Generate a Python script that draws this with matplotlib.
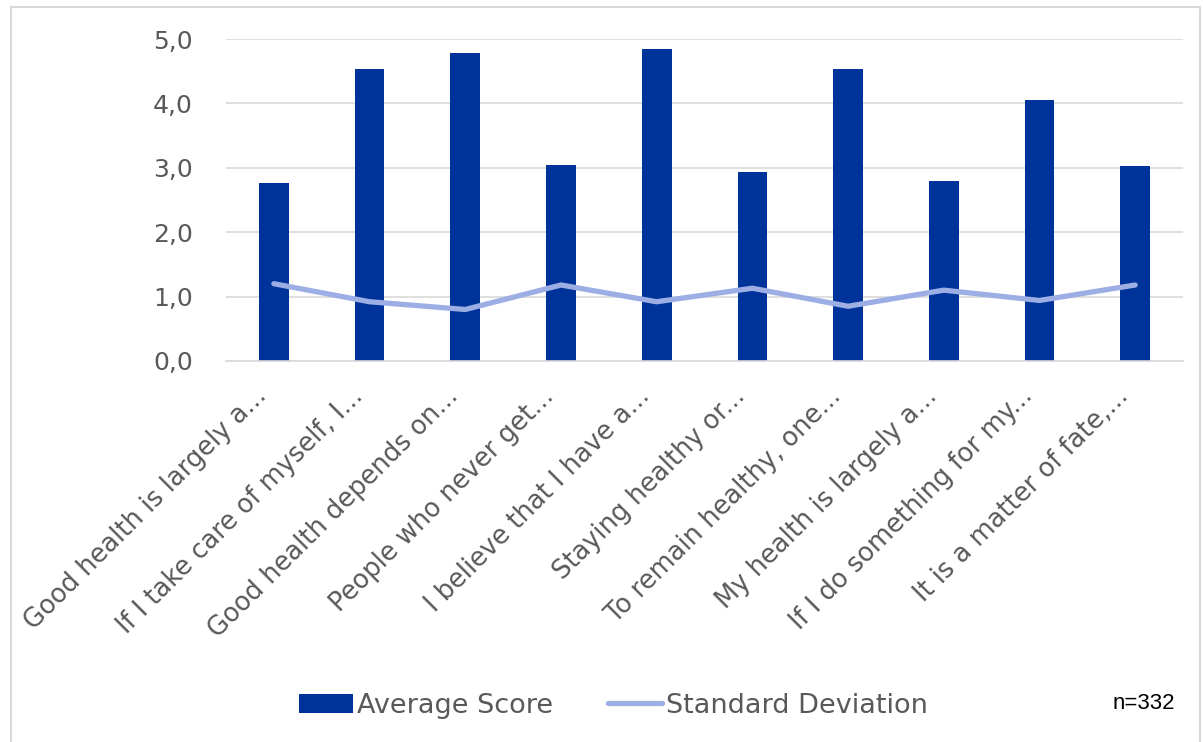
import matplotlib.pyplot as plt
import matplotlib.transforms as mtransforms
from matplotlib.patches import Rectangle

plt.rcParams['font.family'] = ['DejaVu Sans']

labels = ['Good health is largely a...', 'If I take care of myself, I...',
          'Good health depends on...', 'People who never get...',
          'I believe that I have a...', 'Staying healthy or...',
          'To remain healthy, one...', 'My health is largely a...',
          'If I do something for my...', 'It is a matter of fate,...']
avg_score = [2.76, 4.53, 4.78, 3.04, 4.85, 2.93, 4.53, 2.80, 4.05, 3.03]
std_dev = [1.20, 0.92, 0.80, 1.18, 0.92, 1.13, 0.85, 1.10, 0.94, 1.18]
yticks = [0, 1, 2, 3, 4, 5]

grey = '#595959'
fig = plt.figure(figsize=(12.03, 7.42), dpi=100)
ax = fig.add_axes([0.1879, 0.5135, 0.7955, 0.4339])

x = list(range(len(labels)))
bars = ax.bar(x, avg_score, width=0.31, color='#003399', label='Average Score', zorder=2)
line, = ax.plot(x, std_dev, color='#9DAEE5', lw=3.8, solid_capstyle='round',
                label='Standard Deviation', zorder=3)

ax.set_xlim(-0.5, len(labels) - 0.5)
ax.set_ylim(0, 5)
ax.set_yticks(yticks)
ax.set_yticklabels([f'{v:.1f}'.replace('.', ',') for v in yticks])
ax.set_xticks(x)
ax.set_xticklabels(labels, rotation=45, ha='right', rotation_mode='anchor')
ax.tick_params(axis='both', length=0, labelsize=18, colors=grey)
ax.tick_params(axis='x', labelsize=18.5)
ax.tick_params(axis='y', pad=24)
ax.tick_params(axis='x', pad=16)
shift = mtransforms.ScaledTranslation(-20 / 100, 0, fig.dpi_scale_trans)
for lab in ax.get_xticklabels():
    lab.set_transform(lab.get_transform() + shift)
ax.grid(axis='y', color='#D9D9D9', lw=1.2, zorder=0)
for s in ['top', 'right', 'left']:
    ax.spines[s].set_visible(False)
ax.spines['bottom'].set_color('#D9D9D9')
ax.spines['bottom'].set_linewidth(1.2)

leg = fig.legend([bars, line], ['Average Score', 'Standard Deviation'],
                 loc='center', bbox_to_anchor=(0.51, 0.049), ncol=2, frameon=False,
                 fontsize=19.5, handlelength=2.0, handletextpad=0.15, columnspacing=2.0)
for t in leg.get_texts():
    t.set_color(grey)

fig.text(0.925, 0.052, 'n=332', fontsize=16, color='black', va='center',
         family=['Liberation Sans', 'DejaVu Sans'])

fig.patches.append(Rectangle((11 / 1203, -0.01), 1189 / 1203, 1 - 7 / 742 + 0.01,
                             transform=fig.transFigure, fill=False,
                             edgecolor='#D9D9D9', lw=1.5))

fig.savefig('out.png', dpi=100)
